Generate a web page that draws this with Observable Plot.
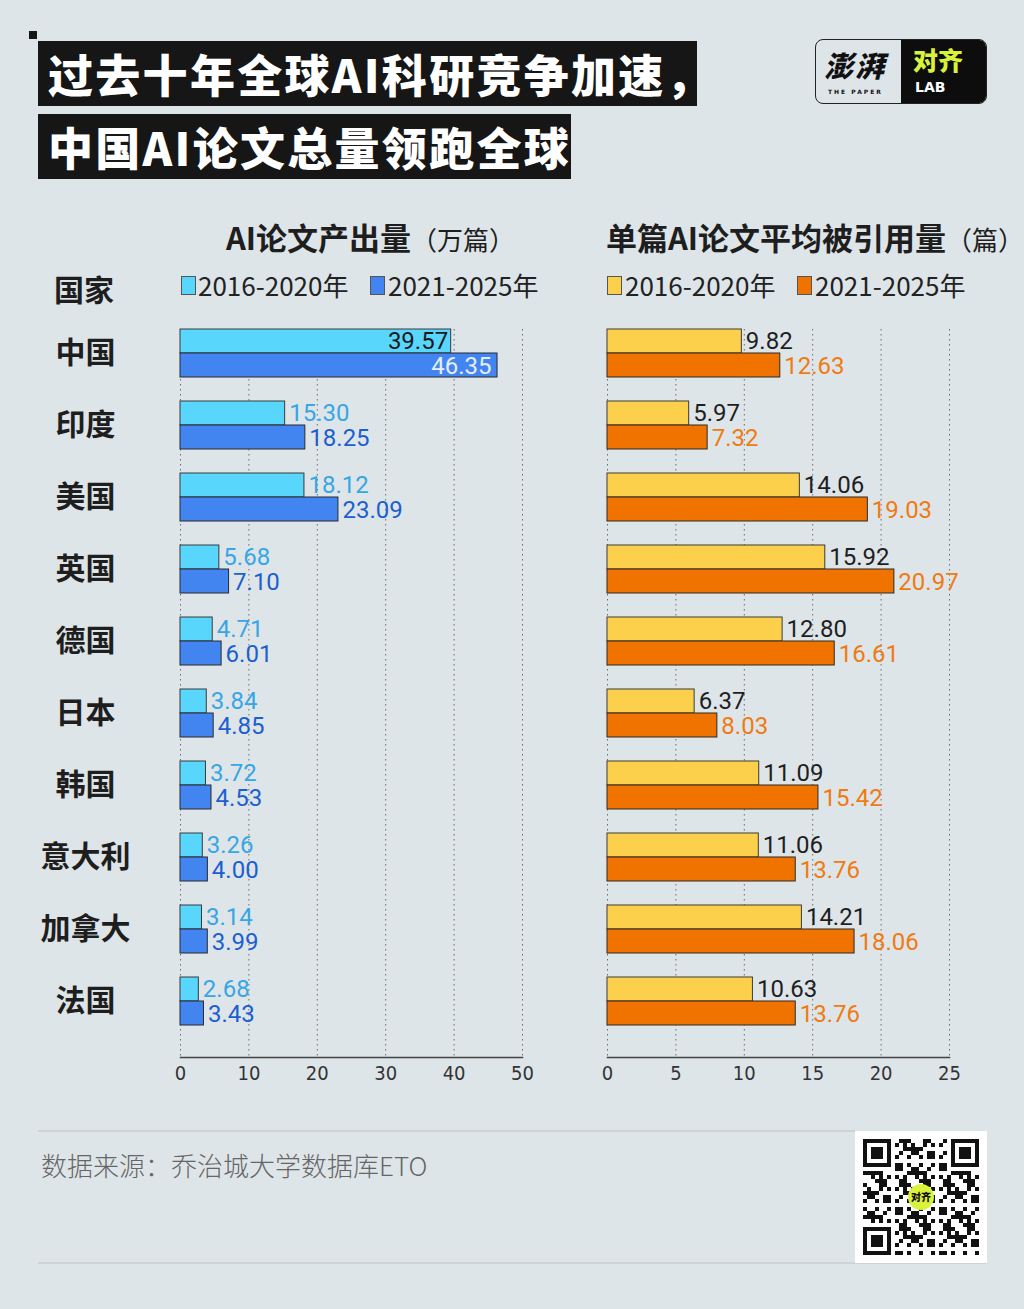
<!DOCTYPE html>
<html>
<head>
<meta charset="utf-8">
<script src="https://cdn.jsdelivr.net/npm/d3@7"></script>
<script src="https://cdn.jsdelivr.net/npm/@observablehq/plot@0.6"></script>
<style>
  html, body { margin: 0; padding: 0; }
  body { width: 1024px; height: 1309px; background: #dee5e9; font-family: "Noto Sans CJK SC", "Noto Sans", sans-serif; }
  #page { position: relative; width: 1024px; height: 1309px; background: #dee5e9; overflow: hidden; }
  .abs { position: absolute; }
  .tbox { position: absolute; background: #161616; color: #fff; font-weight: 900; font-size: 45px; line-height: 65px; height: 65px; padding-left: 10px; letter-spacing: 2.3px; white-space: nowrap; box-sizing: border-box; }
  .hdr { position: absolute; font-weight: 700; font-size: 31px; color: #1e1e1e; white-space: nowrap; line-height: 40px; }
  .hdr span { font-weight: 400; font-size: 26px; }
  .leg { position: absolute; font-size: 26px; color: #222; white-space: nowrap; line-height: 30px; font-family: "Noto Sans CJK SC", Roboto, sans-serif; }
  .sw { position: absolute; width: 15px; height: 19px; border: 1px solid #555; box-sizing: border-box; }
</style>
</head>
<body>
<div id="page">
  <div class="abs" style="left:29px;top:31px;width:8px;height:8px;background:#161616"></div>
  <div class="tbox" style="left:38px;top:41px;width:659px;">过去十年全球AI科研竞争加速，</div>
  <div class="tbox" style="left:38px;top:114px;width:533px;">中国AI论文总量领跑全球</div>

  <div class="abs" style="left:815px;top:39px;width:172px;height:65px;border-radius:8px;overflow:hidden;border:1.5px solid #222;box-sizing:border-box;background:#dee5e9;">
    <div class="abs" style="left:0;top:0;width:85px;height:62px;">
      <div class="abs" style="left:8px;top:8px;font-size:29px;font-weight:900;color:#111;letter-spacing:2px;font-style:italic;line-height:32px;">澎湃</div>
      <div class="abs" style="left:12px;top:48px;font-size:6px;font-weight:700;color:#111;letter-spacing:2px;font-family:'DejaVu Sans';line-height:8px;">THE PAPER</div>
    </div>
    <div class="abs" style="left:85px;top:0;width:86px;height:63px;background:#0d0d0d;">
      <div class="abs" style="left:12px;top:6px;font-size:25px;font-weight:900;color:#d9f23c;line-height:26px;">对齐</div>
      <div class="abs" style="left:14px;top:40px;font-size:14px;font-weight:900;color:#fff;font-family:'DejaVu Sans';line-height:14px;">LAB</div>
    </div>
  </div>

  <div class="hdr" style="left:226px;top:217px;">AI论文产出量<span>（万篇）</span></div>
  <div class="hdr" style="left:606px;top:217px;">单篇AI论文平均被引用量<span>（篇）</span></div>
  <div class="hdr" style="left:54px;top:268px;font-size:30px;">国家</div>

  <div class="sw" style="left:181px;top:276px;background:#58d6fc;"></div>
  <div class="leg" style="left:198px;top:270px;">2016-2020年</div>
  <div class="sw" style="left:370px;top:276px;background:#4285f0;"></div>
  <div class="leg" style="left:388px;top:270px;">2021-2025年</div>
  <div class="sw" style="left:607px;top:276px;background:#fdd04c;"></div>
  <div class="leg" style="left:625px;top:270px;">2016-2020年</div>
  <div class="sw" style="left:797px;top:276px;background:#f07300;"></div>
  <div class="leg" style="left:815px;top:270px;">2021-2025年</div>

  <div id="left" class="abs" style="left:0;top:300px;"></div>
  <div id="right" class="abs" style="left:545px;top:300px;"></div>

  <div class="abs" style="left:38px;top:1130px;width:817px;height:2px;background:#cdd3d7;"></div>
  <div class="abs" style="left:38px;top:1262px;width:949px;height:2px;background:#cdd3d7;"></div>
  <div class="abs" style="left:41px;top:1146px;font-size:26px;font-weight:300;color:#666;white-space:nowrap;">数据来源：乔治城大学数据库ETO</div>
  <div id="qr" class="abs" style="left:855px;top:1131px;width:132px;height:132px;background:#fff;"></div>
</div>
<script>
// ---- data ----
const countries = ["中国","印度","美国","英国","德国","日本","韩国","意大利","加拿大","法国"];
const papers2016 = [39.57, 15.30, 18.12, 5.68, 4.71, 3.84, 3.72, 3.26, 3.14, 2.68];
const papers2021 = [46.35, 18.25, 23.09, 7.10, 6.01, 4.85, 4.53, 4.00, 3.99, 3.43];
const cites2016 = [9.82, 5.97, 14.06, 15.92, 12.80, 6.37, 11.09, 11.06, 14.21, 10.63];
const cites2021 = [12.63, 7.32, 19.03, 20.97, 16.61, 8.03, 15.42, 13.76, 18.06, 13.76];
const paperTicks = [0, 10, 20, 30, 40, 50];
const citeTicks = [0, 5, 10, 15, 20, 25];

const rows = (a) => countries.map((c, i) => ({country: c, value: a[i]}));
const fmt = (d) => d.value.toFixed(2);

const H = 797, MT = 29, MB = 40;
const yScale = {domain: countries, range: [29, 730], paddingInner: 0.3385, paddingOuter: 0, align: 0, axis: null};
const numFont = "Roboto, 'Noto Sans', sans-serif";

function chart({s1, s2, ticks, domain, c1, c2, lab1Out, lab2Out, lab1In, lab2In, inside, width, marginLeft, marginRight, withCountries}) {
  const d1 = rows(s1), d2 = rows(s2);
  const marks = [
    Plot.gridX(ticks, {stroke: "#6a6a6a", strokeOpacity: 1, strokeWidth: 1, strokeDasharray: "1.5,3.5"}),
    Plot.barX(d1, {x: "value", y: "country", fill: c1, stroke: "#3a3a3a", strokeWidth: 1, insetBottom: 24}),
    Plot.barX(d2, {x: "value", y: "country", fill: c2, stroke: "#2a2a2a", strokeWidth: 1, insetTop: 24}),
    Plot.text(d1.filter(d => !inside(d.value)), {x: "value", y: "country", text: fmt, dy: -12, dx: 4, textAnchor: "start", fill: lab1Out, fontSize: 24, fontFamily: numFont}),
    Plot.text(d2.filter(d => !inside(d.value)), {x: "value", y: "country", text: fmt, dy: 13, dx: 4, textAnchor: "start", fill: lab2Out, fontSize: 24, fontFamily: numFont}),
    Plot.text(d1.filter(d => inside(d.value)), {x: "value", y: "country", text: fmt, dy: -12, dx: -3, textAnchor: "end", fill: lab1In, fontSize: 24, fontFamily: numFont}),
    Plot.text(d2.filter(d => inside(d.value)), {x: "value", y: "country", text: fmt, dy: 13, dx: -6, textAnchor: "end", fill: lab2In, fontSize: 24, fontFamily: numFont}),
    Plot.frame({anchor: "bottom", stroke: "#444", strokeWidth: 1.5}),
    Plot.axisX(ticks, {anchor: "bottom", tickSize: 0, tickPadding: 8, fontSize: 20, fill: "#333", label: null, fontFamily: "'Liberation Sans Narrow', 'DejaVu Sans Condensed', Roboto, sans-serif"})
  ];
  if (withCountries) {
    marks.push(Plot.text(countries, {y: d => d, text: d => d, frameAnchor: "left", dx: -95, textAnchor: "middle", fontSize: 30, fontWeight: 700, fill: "#1e1e1e", fontFamily: "'Noto Sans CJK SC', sans-serif"}));
  }
  return Plot.plot({
    width, height: H, marginLeft, marginRight, marginTop: MT, marginBottom: MB,
    style: {background: "transparent", overflow: "visible", fontFamily: numFont},
    x: {domain, label: null},
    y: yScale,
    marks
  });
}

document.getElementById("left").append(chart({
  s1: papers2016, s2: papers2021, ticks: paperTicks, domain: [0, 50],
  c1: "#58d6fc", c2: "#4285f0",
  lab1Out: "#37a6e4", lab2Out: "#1b5fd0", lab1In: "#1a1a1a", lab2In: "#e6eefb",
  inside: v => v > 35, width: 540, marginLeft: 180, marginRight: 18, withCountries: true
}));

document.getElementById("right").append(chart({
  s1: cites2016, s2: cites2021, ticks: citeTicks, domain: [0, 25],
  c1: "#fdd04c", c2: "#f07300",
  lab1Out: "#1e1e1e", lab2Out: "#f07a12", lab1In: "#1e1e1e", lab2In: "#fff",
  inside: v => false, width: 475, marginLeft: 62, marginRight: 71, withCountries: false
}));

// ---- decorative QR-like badge ----
(function(){
  const ns = "http://www.w3.org/2000/svg";
  const svg = document.createElementNS(ns, "svg");
  svg.setAttribute("width", 132); svg.setAttribute("height", 132);
  const n = 29, m = 4, o = 8;
  const rect = (x, y, w, h, f) => { const r = document.createElementNS(ns, "rect"); r.setAttribute("x", x); r.setAttribute("y", y); r.setAttribute("width", w); r.setAttribute("height", h); r.setAttribute("fill", f); svg.appendChild(r); };
  const inFinder = (i, j) => (i < 8 && j < 8) || (i >= n - 8 && j < 8) || (i < 8 && j >= n - 8);
  for (let i = 0; i < n; i++) for (let j = 0; j < n; j++) {
    if (inFinder(i, j)) continue;
    if (((i * 31 + j * 17 + i * j * 7) % 11) < 5) rect(o + i * m, o + j * m, m, m, "#111");
  }
  [[0,0],[n-7,0],[0,n-7]].forEach(([i,j]) => {
    rect(o + i*m, o + j*m, 7*m, 7*m, "#111");
    rect(o + i*m + m, o + j*m + m, 5*m, 5*m, "#fff");
    rect(o + i*m + 2*m, o + j*m + 2*m, 3*m, 3*m, "#111");
  });
  const c = document.createElementNS(ns, "circle");
  c.setAttribute("cx", 66); c.setAttribute("cy", 66); c.setAttribute("r", 13); c.setAttribute("fill", "#d9f23c");
  svg.appendChild(c);
  const t = document.createElementNS(ns, "text");
  t.setAttribute("x", 66); t.setAttribute("y", 70); t.setAttribute("text-anchor", "middle");
  t.setAttribute("font-size", 10); t.setAttribute("font-weight", 900); t.setAttribute("fill", "#111");
  t.setAttribute("font-family", "Noto Sans CJK SC"); t.textContent = "对齐";
  svg.appendChild(t);
  document.getElementById("qr").appendChild(svg);
})();
</script>
</body>
</html>
